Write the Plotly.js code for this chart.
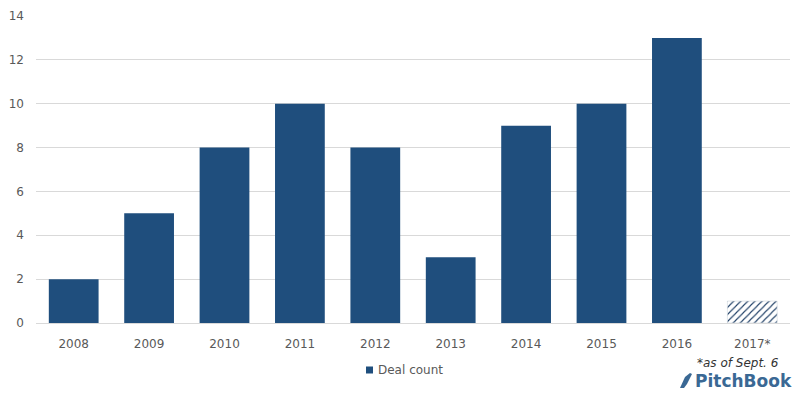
<!DOCTYPE html>
<html><head><meta charset="utf-8">
<script src="https://cdn.plot.ly/plotly-3.0.1.min.js"></script>
<style>body{margin:0;background:#fff}#c{width:799px;height:398px}</style>
</head><body><div id="c"></div>
<script>
const years = ['2008','2009','2010','2011','2012','2013','2014','2015','2016','2017*'];
const dealCount = [2,5,8,10,8,3,9,10,13,1];
const patterns = ['','','','','','','','','','/'];
const yTicks = [0,2,4,6,8,10,12,14];
const seriesName = 'Deal count';

const W=799,H=398, M={l:36,r:9,t:16,b:75};
const pw=W-M.l-M.r, ph=H-M.t-M.b;
const px = x => (x-M.l)/pw;
const py = y => (H-M.b-y)/ph;

const blue = '#1F4E7D';
const trace = {
  type:'bar', x:years, y:dealCount, name:seriesName,
  marker:{
    color: blue,
    line:{color: patterns.map(p=> p ? '#d0d6de' : blue), width: patterns.map(p=> p?0.6:0)},
    pattern:{shape:patterns, fgcolor:'#1F3F66', bgcolor:'#ffffff', size:5, solidity:0.22, fillmode:'replace'}
  },
  showlegend:false
};
const logoPath = (()=>{
  const pts=[[680,388],[685,377],[690,373],[692,374],[687,384],[684,388]];
  return 'M'+pts.map(p=>px(p[0]).toFixed(5)+','+py(p[1]).toFixed(5)).join('L')+'Z';
})();
const layout = {
  width:W, height:H, margin:M,
  paper_bgcolor:'#fff', plot_bgcolor:'#fff',
  font:{family:'DejaVu Sans, Verdana, sans-serif', size:12, color:'#595959'},
  bargap:0.34,
  xaxis:{type:'category', showgrid:false, zeroline:false, showline:false, ticks:'', ticklabelstandoff:12, tickfont:{size:12,color:'#595959'}},
  yaxis:{range:[0,14], tickvals:yTicks, showgrid:true, gridcolor:'#d9d9d9', gridwidth:1, zeroline:true, zerolinecolor:'#d9d9d9', zerolinewidth:1, ticks:'', ticklabelstandoff:11, tickfont:{size:12,color:'#595959'}},
  showlegend:false,
  shapes:[
    {type:'rect', xref:'paper', yref:'paper', x0:px(366), x1:px(373), y0:py(373.5), y1:py(366.5), fillcolor:blue, line:{width:0}},
    {type:'path', xref:'paper', yref:'paper', path:logoPath, fillcolor:'#3A6894', line:{width:0}}
  ],
  annotations:[
    {text:seriesName, xref:'paper', yref:'paper', x:px(376), y:py(370), xanchor:'left', yanchor:'middle', showarrow:false, font:{size:12,color:'#595959'}},
    {text:'<i>*as of Sept. 6</i>', xref:'paper', yref:'paper', x:px(781), y:py(363), xanchor:'right', yanchor:'middle', showarrow:false, font:{size:12,color:'#333'}},
    {text:'<b>PitchBook</b>', xref:'paper', yref:'paper', x:px(794), y:py(381), xanchor:'right', yanchor:'middle', showarrow:false, font:{size:17,color:'#3A6894', family:'DejaVu Sans, sans-serif'}}
  ]
};
Plotly.newPlot('c',[trace],layout,{displayModeBar:false,staticPlot:true});
</script></body></html>
